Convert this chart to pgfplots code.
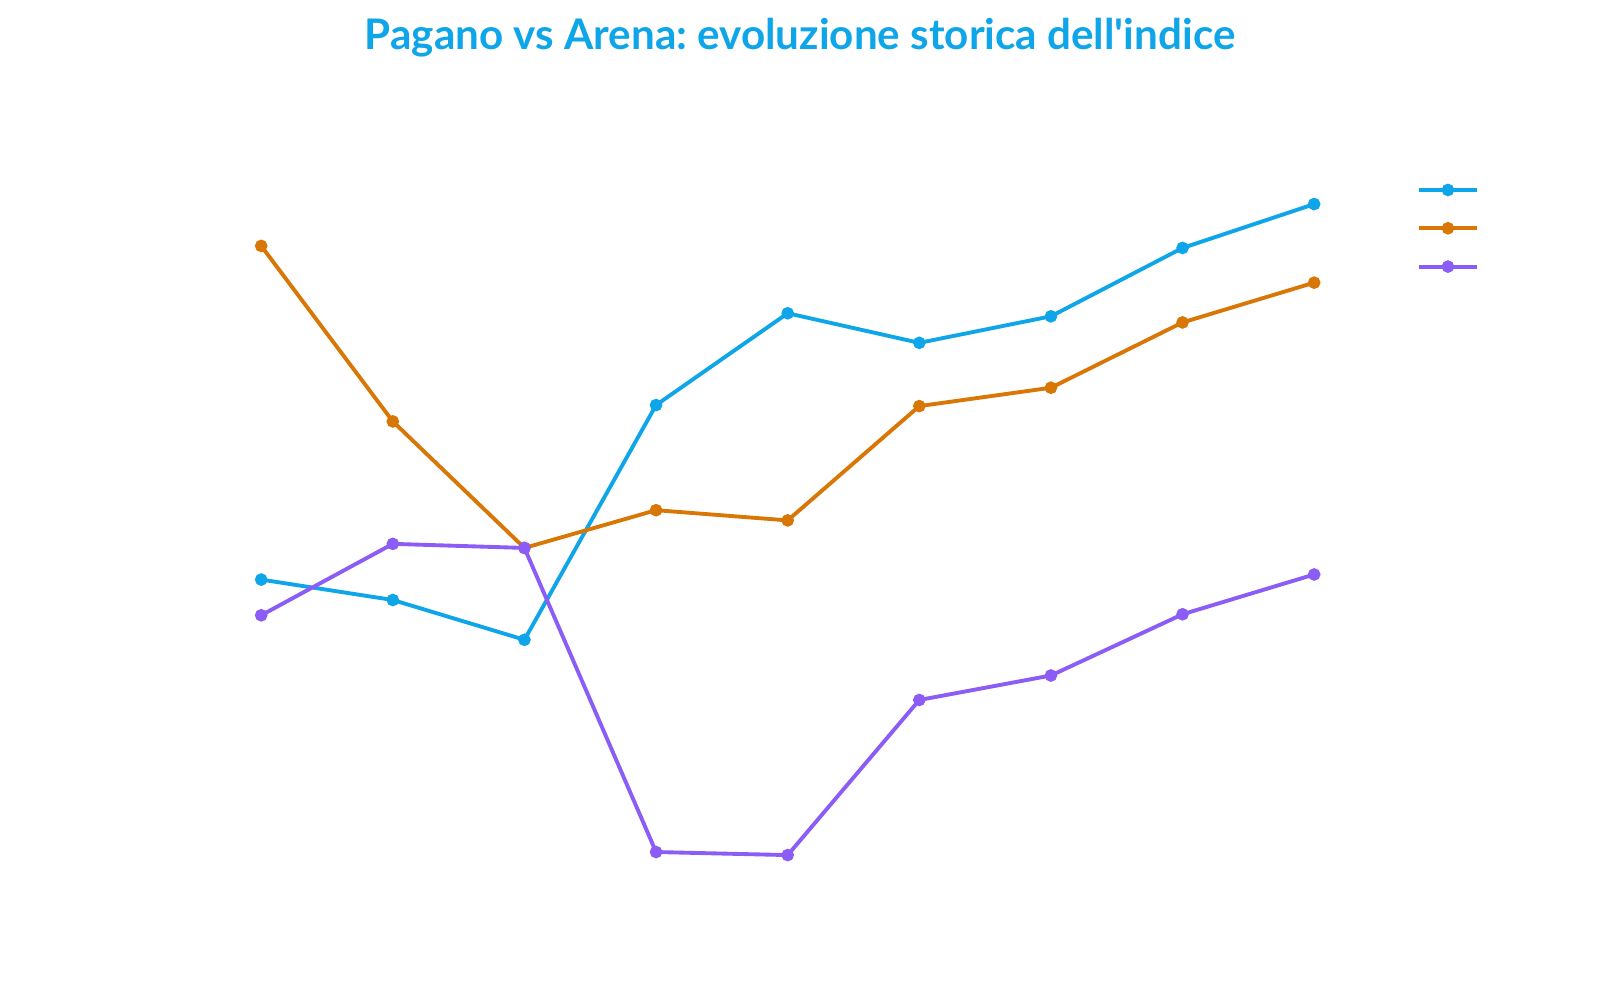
\documentclass[border=0pt]{standalone}
\usepackage{fontspec}
\setmainfont{Lato}[Ligatures=TeXReset]
\usepackage{pgfplots}
\pgfplotsset{compat=1.18}
\definecolor{cblue}{HTML}{0EA5E9}
\definecolor{corange}{HTML}{D97706}
\definecolor{cpurple}{HTML}{8B5CF6}

\begin{document}
\frenchspacing
\begin{tikzpicture}
\useasboundingbox (-2.612,-1.449) rectangle (13.388,8.551);
\begin{axis}[
    scale only axis, width=10.53cm, height=6.51cm,
    xmin=0, xmax=8, ymin=16.2, ymax=80.0,
    hide axis, clip=false,
    every axis plot/.append style={line width=1.1pt, mark=*,
        mark size=1.6pt, mark options={line width=0.4pt}},
    legend style={draw=none, fill=none, inner sep=0pt, row sep=3.4pt,
        at={(1.097,1.043)}, anchor=north west,
        nodes={inner sep=0pt, minimum height=7.5pt}},
    legend image code/.code={\draw[mark repeat=2,mark phase=2] plot coordinates {(0cm,0cm) (0.29cm,0cm) (0.58cm,0cm)};},
]
\addplot[cblue] coordinates {(0,43.2) (1,41.2) (2,37.3) (3,60.3) (4,69.3) (5,66.4) (6,69.0) (7,75.7) (8,80.0)};
\addlegendentry{}
\addplot[corange] coordinates {(0,75.9) (1,58.7) (2,46.3) (3,50.0) (4,49.0) (5,60.2) (6,62.0) (7,68.4) (8,72.3)};
\addlegendentry{}
\addplot[cpurple] coordinates {(0,39.7) (1,46.7) (2,46.3) (3,16.5) (4,16.2) (5,31.4) (6,33.8) (7,39.8) (8,43.7)};
\addlegendentry{}
\node[anchor=center, text=cblue, font=\bfseries\fontsize{12}{15}\selectfont]
    at (rel axis cs:0.5117,1.2555) {Pagano vs Arena: evoluzione storica dell'indice};
\end{axis}
\end{tikzpicture}
\end{document}
